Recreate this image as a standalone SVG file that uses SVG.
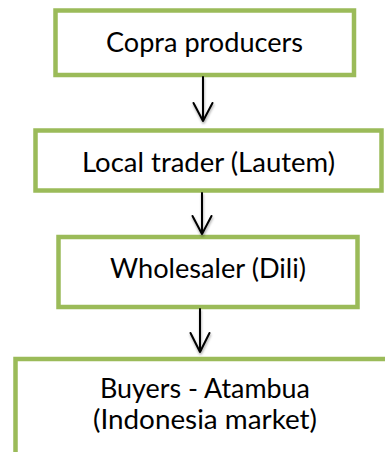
<svg xmlns="http://www.w3.org/2000/svg" width="385" height="452" viewBox="0 0 385 452">
<style>
.box{fill:#ffffff;stroke:#9BBB59;stroke-width:4.5}
.lbl{font-family:Lato,"Open Sans","Liberation Sans",sans-serif;font-size:26px;fill:#000000;text-anchor:middle}
.conn{fill:none;stroke:#000000;stroke-width:2;stroke-linecap:round;stroke-linejoin:round;filter:url(#sh)}
</style>
<defs>
<filter id="sh" x="-50%" y="-20%" width="200%" height="140%">
<feDropShadow dx="0.5" dy="2" stdDeviation="1.2" flood-color="#000000" flood-opacity="0.35"/>
</filter>
</defs>
<rect width="385" height="452" fill="#ffffff"/>
<g id="node-copra">
<rect class="box" x="55.5" y="10.5" width="298.5" height="64.5"/>
<text class="lbl" x="204.5" y="52" textLength="197" lengthAdjust="spacingAndGlyphs">Copra producers</text>
</g>
<g id="node-local">
<rect class="box" x="35.5" y="130.5" width="346" height="60"/>
<text class="lbl" x="208.5" y="172" textLength="253" lengthAdjust="spacingAndGlyphs">Local trader (Lautem)</text>
</g>
<g id="node-wholesaler">
<rect class="box" x="58.5" y="237" width="299" height="70"/>
<text class="lbl" x="208" y="278" textLength="196" lengthAdjust="spacingAndGlyphs">Wholesaler (Dili)</text>
</g>
<g id="node-buyers">
<rect class="box" x="15.5" y="359" width="400" height="200"/>
<text class="lbl" x="205" y="398" textLength="210" lengthAdjust="spacingAndGlyphs">Buyers - Atambua</text>
<text class="lbl" x="205" y="429" textLength="224" lengthAdjust="spacingAndGlyphs">(Indonesia market)</text>
</g>
<g id="connectors">
<path class="conn" d="M203 77 V121 M193.5 103 L203 121 L212.5 103"/>
<path class="conn" d="M202 193 V234 M192.5 216 L202 234 L211.5 216"/>
<path class="conn" d="M200 309 V352 M190.5 333 L200 352 L209.5 333"/>
</g>
</svg>
